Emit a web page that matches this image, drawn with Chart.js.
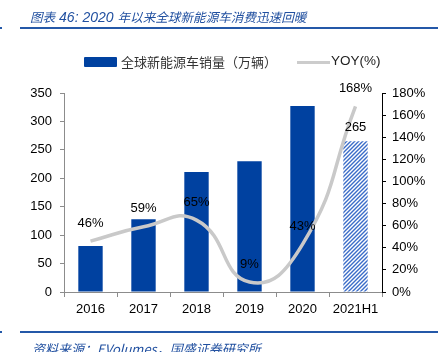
<!DOCTYPE html>
<html><head><meta charset="utf-8">
<script src="https://cdn.jsdelivr.net/npm/chart.js@4.4.0/dist/chart.umd.min.js"></script>
<style>
html,body{margin:0;padding:0;background:#fff;}
#wrap{position:relative;width:447px;height:352px;overflow:hidden;}
canvas{position:absolute;left:0;top:0;}
.t{position:absolute;white-space:pre;}
#title{left:30px;top:7px;font:italic 12.6px "Noto Sans CJK SC","Liberation Sans",sans-serif;color:#2150a0;}
#title .l{font:italic 14px "Liberation Sans",sans-serif;}
#src{left:32px;top:339px;font:italic 13px "Noto Sans CJK SC","Liberation Sans",sans-serif;color:#2150a0;}
.hl{position:absolute;left:20px;width:418px;height:2px;background:#2458a8;}
.mk{position:absolute;left:0;width:2px;height:2px;background:#2458a8;}
#lg1box{position:absolute;left:84px;top:57px;width:33px;height:10px;background:#0041a0;border-radius:1px;}
#lg1{left:121px;top:52px;font:13px "Noto Sans CJK SC",sans-serif;color:#333;}
#lg2line{position:absolute;left:297px;top:61px;width:33px;height:3px;background:#cccccc;}
#lg2{left:331px;top:53px;font:13.5px "Liberation Sans",sans-serif;color:#222;}
</style></head>
<body><div id="wrap">
<canvas id="c" width="447" height="352"></canvas>
<div class="t" id="title">图表<span class="l"> 46: 2020 </span>年以来全球新能源车消费迅速回暖</div>
<div class="hl" style="top:27px"></div><div class="mk" style="top:27px"></div>
<div id="lg1box"></div><div class="t" id="lg1">全球新能源车销量（万辆）</div>
<div id="lg2line"></div><div class="t" id="lg2">YOY(%)</div>
<div class="hl" style="top:331px"></div><div class="mk" style="top:331px"></div>
<div class="t" id="src">资料来源：EVolumes，国盛证券研究所</div>
</div>
<script>
const categories = ['2016','2017','2018','2019','2020','2021H1'];
const sales = [81, 128, 211, 230, 327, 265];
const yoy = [46, 59, 65, 9, 43, 168];
const yoyLabels = ['46%','59%','65%','9%','43%','168%'];
const salesLabelIndex = [5];

function hatch(){
  const s=4, c=document.createElement('canvas'); c.width=s; c.height=s;
  const x=c.getContext('2d');
  x.fillStyle='#fff'; x.fillRect(0,0,s,s);
  x.strokeStyle='#3a6cc8'; x.lineWidth=1.4;
  x.beginPath();
  x.moveTo(0,s); x.lineTo(s,0);
  x.moveTo(-1,1); x.lineTo(1,-1);
  x.moveTo(s-1,s+1); x.lineTo(s+1,s-1);
  x.stroke();
  return x.createPattern(c,'repeat');
}
const ctx=document.getElementById('c').getContext('2d');
const pat=hatch();
const barColors = sales.map((v,i)=> i===5 ? pat : '#0041a0');
const FONT = {family:'"Liberation Sans", sans-serif', size:13};

const labelPlugin = {
  id:'labels',
  afterDatasetsDraw(chart){
    const c=chart.ctx;
    c.save();
    c.font='13px "Liberation Sans", sans-serif';
    c.fillStyle='#000'; c.textAlign='center'; c.textBaseline='middle';
    const lm=chart.getDatasetMeta(0);
    lm.data.forEach((p,i)=>{ c.fillText(yoyLabels[i], p.x, p.y-18); });
    const bm=chart.getDatasetMeta(1);
    salesLabelIndex.forEach(i=>{ const b=bm.data[i]; c.fillText(String(sales[i]), b.x, b.y-14); });
    c.restore();
  }
};

new Chart(ctx,{
  data:{
    labels:categories,
    datasets:[
      {type:'line', label:'YOY(%)', data:yoy, yAxisID:'y1', borderColor:'#c9c9c9', borderWidth:3.5,
       pointRadius:0, tension:0.5, order:1, fill:false},
      {type:'bar', label:'全球新能源车销量（万辆）', data:sales, yAxisID:'y', backgroundColor:barColors,
       categoryPercentage:1, barPercentage:0.46, order:2}
    ]
  },
  options:{
    responsive:false, animation:false, devicePixelRatio:1,
    layout:{padding:{top:93,left:0,right:0,bottom:0}},
    plugins:{legend:{display:false}, tooltip:{enabled:false}},
    scales:{
      x:{
        offset:true,
        grid:{offset:true, drawOnChartArea:false, drawTicks:true, tickLength:5, color:'#8c8c8c'},
        border:{color:'#8c8c8c'},
        ticks:{font:FONT, color:'#000', padding:5, maxRotation:0},
        afterFit(s){ s.height=60; }
      },
      y:{
        position:'left', min:0, max:350,
        ticks:{stepSize:50, font:FONT, color:'#000', padding:8},
        grid:{drawOnChartArea:false, drawTicks:true, tickLength:4, color:'#8c8c8c'},
        border:{color:'#8c8c8c'},
        afterFit(s){ s.width=64; }
      },
      y1:{
        position:'right', min:0, max:180,
        ticks:{stepSize:20, font:FONT, color:'#000', padding:6, callback:v=>v+'%'},
        grid:{drawOnChartArea:false, drawTicks:true, tickLength:4, color:'#000'},
        border:{color:'#000'},
        afterFit(s){ s.width=65; }
      }
    }
  },
  plugins:[labelPlugin]
});
</script>
</body></html>
